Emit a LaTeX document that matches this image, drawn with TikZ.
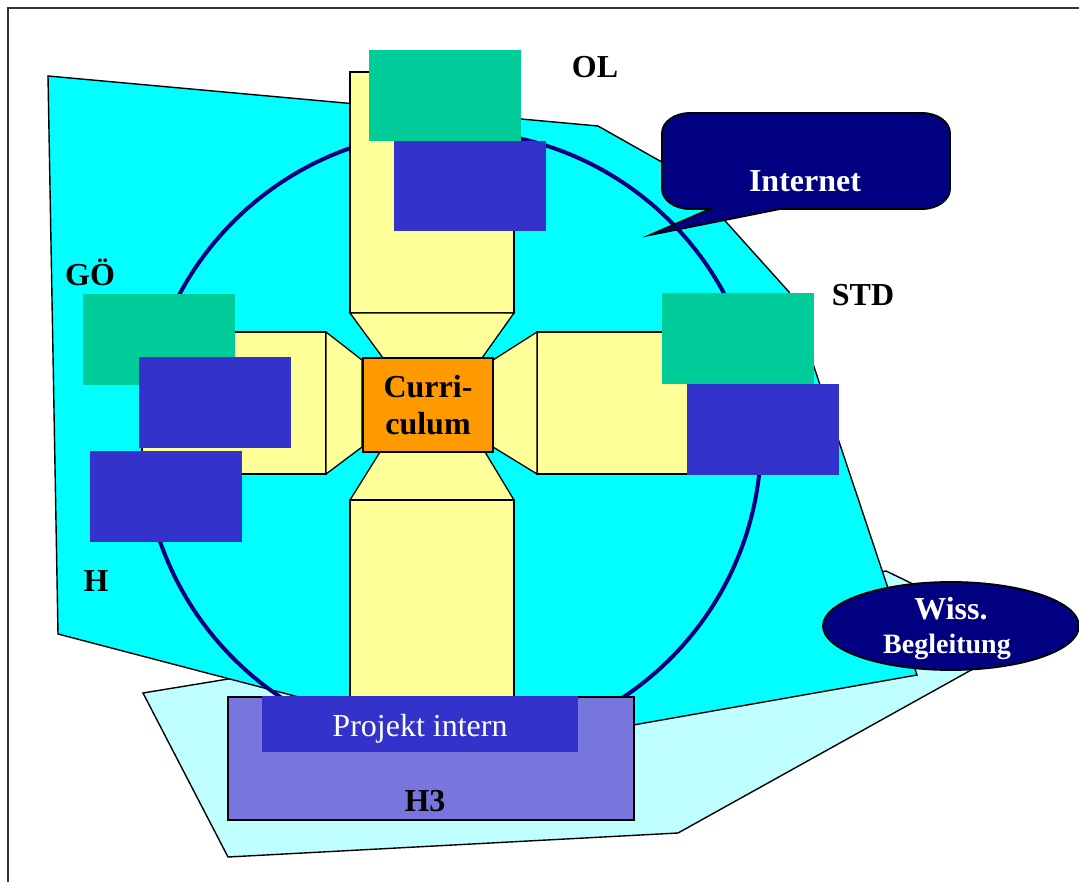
\documentclass[tikz,border=0pt]{standalone}
\usepackage{fontspec}
\setmainfont{Liberation Serif}
\usetikzlibrary{shapes.geometric}
\definecolor{cyanA}{HTML}{00FFFF}
\definecolor{lcyan}{HTML}{C0FFFF}
\definecolor{yel}{HTML}{FFFF99}
\definecolor{orng}{HTML}{FF9900}
\definecolor{grn}{HTML}{00CC99}
\definecolor{blu}{HTML}{3333CC}
\definecolor{navyc}{HTML}{000080}
\definecolor{hbox}{HTML}{7676DC}
\definecolor{framec}{HTML}{333333}
\begin{document}
\begin{tikzpicture}[x=1pt,y=-1pt,
  outline/.style={draw=black, line width=1.4},
  ybar/.style={fill=yel, draw=black, line width=1.3},
  gbox/.style={fill=grn},
  bbox/.style={fill=blu},
  lbl/.style={font=\bfseries\fontsize{32}{36}\selectfont, anchor=base, inner sep=0},
  wlbl/.style={lbl, text=white},
  wreg/.style={font=\fontsize{32}{36}\selectfont, anchor=base, inner sep=0, text=white}]
\useasboundingbox (0,0) rectangle (1079,882);
\fill[white] (0,0) rectangle (1079,882);
% frame
\draw[framec, line width=1.6] (1079,8) -- (8,8) -- (8,882);
% light cyan background polygon
\draw[outline, fill=lcyan] (143,693) -- (886,571) -- (1027,639) -- (678,833) -- (228,857) -- cycle;
% cyan polygon
\draw[outline, fill=cyanA] (48,76) -- (598,126) -- (683,174) -- (789,292) -- (917,675) -- (497,749) -- (58,634) -- cycle;
% circle
\draw[navyc, line width=4] (452,440) circle [radius=309];
% yellow cross
\draw[ybar] (350,72) rectangle (514,313);
\draw[ybar] (350,313) -- (514,313) -- (482,358) -- (383,358) -- cycle;
\draw[ybar] (142,332) rectangle (326,474);
\draw[ybar] (326,332) -- (362,360) -- (362,447) -- (326,474) -- cycle;
\draw[ybar] (537,332) rectangle (720,474);
\draw[ybar] (537,332) -- (493,360) -- (493,447) -- (537,474) -- cycle;
\draw[ybar] (380,452) -- (485,452) -- (514,500) -- (350,500) -- cycle;
\draw[ybar] (350,500) rectangle (514,700);
% curriculum box
\draw[fill=orng, draw=black, line width=2] (363,358) rectangle (493,452);
% OL boxes
\fill[gbox] (369,50) rectangle (521,141);
\fill[bbox] (394,141) rectangle (546,231);
% GÖ / H boxes
\fill[gbox] (83,294) rectangle (235,385);
\fill[bbox] (139,357) rectangle (291,448);
\fill[bbox] (90,451) rectangle (242,542);
% STD boxes
\fill[gbox] (662,293) rectangle (814,384);
\fill[bbox] (687,384) rectangle (839,475);
% H3 box
\draw[fill=hbox, draw=black, line width=2] (228,697) rectangle (634,820);
\fill[bbox] (262,696) rectangle (578,752);
% Internet bubble
\draw[fill=navyc, draw=black, line width=1.8]
  (710,209) -- (650,235) -- (780,209) -- (922,209)
  .. controls (937.5,209) and (950,200) .. (950,189)
  -- (950,133)
  .. controls (950,122) and (937.5,113) .. (922,113)
  -- (690,113)
  .. controls (674.5,113) and (662,122) .. (662,133)
  -- (662,189)
  .. controls (662,200) and (674.5,209) .. (690,209)
  -- cycle;
% Wiss. Begleitung ellipse
\draw[fill=navyc, draw=black, line width=1.8] (951,626) ellipse [x radius=128, y radius=44];
% labels
\node[lbl] (ol) at (595,78) {OL};
\node[lbl] (goe) at (90,286) {GÖ};
\node[lbl] (std) at (863,306) {STD};
\node[lbl] (h) at (96,591) {H};
\node[lbl] (h3) at (425,811) {H3};
\node[lbl] (cur1) at (428,398) {Curri-};
\node[lbl] (cur2) at (428,435) {culum};
\node[wlbl] (inet) at (805,192) {Internet};
\node[wreg] (proj) at (420,736) {Projekt intern};
\node[wlbl] (wiss) at (951,619) {Wiss.};
\node[wlbl, font=\bfseries\fontsize{28}{32}\selectfont] (begl) at (947,653) {Begleitung};
\end{tikzpicture}
\end{document}
